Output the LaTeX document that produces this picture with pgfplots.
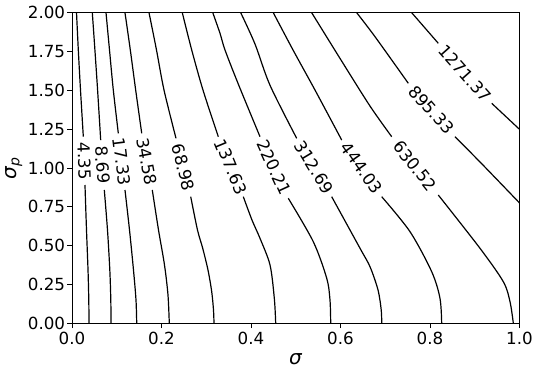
\documentclass[border=0pt]{standalone}
\usepackage{pgfplots}
\pgfplotsset{compat=1.18}
\usepackage{fontspec}
\setmainfont{DejaVu Sans}
\newcommand\lbl{\fontsize{16.7}{20}\selectfont}
\newcommand\axl{\fontsize{20}{24}\selectfont}
\tikzset{
  cl/.style={black, line width=1.2pt, smooth},
  lb/.style={font=\lbl, inner sep=0pt},
}

\begin{document}
\begin{tikzpicture}
\useasboundingbox (-72pt,-50.7pt) rectangle (468pt,323.3pt);
\begin{axis}[
  scale only axis, width=447.5pt, height=310.6pt,
  xmin=0, xmax=1, ymin=0, ymax=2,
  xtick={0,0.2,0.4,0.6,0.8,1},
  ytick={0,0.25,0.5,0.75,1,1.25,1.5,1.75,2},
  tick align=outside, tick pos=left,
  major tick length=4.9pt,
  every tick/.style={black, line width=0.9pt},
  axis line style={line width=0.9pt},
  tick label style={font=\lbl},
  /pgf/number format/assume math mode=true,
  x tick label style={inner sep=3.3pt, /pgf/number format/.cd, fixed, fixed zerofill, precision=1},
  y tick label style={inner sep=1.8pt, /pgf/number format/.cd, fixed, fixed zerofill, precision=2},
  xlabel={\textit{σ}},
  ylabel={\textit{σ}\textsubscript{\textit{p}}},
  label style={font=\axl, inner sep=0pt},
  x label style={at={(axis description cs:0.5,-0.1143)}, anchor=center},
  y label style={at={(axis description cs:-0.1301,0.5)}, anchor=center},
]
% 4.35
\addplot[cl] coordinates {(0.0101,2.0) (0.0141,1.760) (0.019,1.502) (0.0253,1.2016)};
\addplot[cl] coordinates {(0.029,0.8905) (0.0324,0.601) (0.0358,0.343) (0.0375,0.150) (0.038,0)};
% 8.69
\addplot[cl] coordinates {(0.0454,2.0) (0.0512,1.760) (0.0572,1.502) (0.0641,1.180)};
\addplot[cl] coordinates {(0.0722,0.8584) (0.0793,0.601) (0.0845,0.343) (0.0867,0.150) (0.0872,0)};
% 17.33
\addplot[cl] coordinates {(0.076,2) (0.0838,1.760) (0.0923,1.502) (0.1035,1.2234)};
\addplot[cl] coordinates {(0.1184,0.8584) (0.1285,0.601) (0.1374,0.343) (0.143,0.150) (0.1446,0)};
% 34.58
\addplot[cl] coordinates {(0.1184,2) (0.1303,1.760) (0.1423,1.502) (0.1558,1.2234)};
\addplot[cl] coordinates {(0.1794,0.8584) (0.1933,0.601) (0.2067,0.3754) (0.2145,0.182) (0.2174,0)};
% 68.98
\addplot[cl] coordinates {(0.1721,2) (0.1888,1.760) (0.2056,1.502) (0.2324,1.191)};
\addplot[cl] coordinates {(0.2653,0.8152) (0.2804,0.601) (0.2921,0.483) (0.3039,0.343) (0.3122,0.2035) (0.3162,0.0856) (0.3173,0)};
% 137.63
\addplot[cl] coordinates {(0.2465,2) (0.2675,1.760) (0.2927,1.502) (0.3269,1.2016)};
\addplot[cl] coordinates {(0.3828,0.8152) (0.4022,0.665) (0.4201,0.5473) (0.4425,0.3754) (0.4521,0.161) (0.4552,0)};
% 220.21
\addplot[cl] coordinates {(0.3146,2) (0.3307,1.8674) (0.3419,1.760) (0.3709,1.5454) (0.4201,1.2016)};
\addplot[cl] coordinates {(0.4833,0.805) (0.5392,0.5254) (0.5692,0.2898) (0.5765,0.150) (0.5781,0)};
% 312.69
\addplot[cl] coordinates {(0.377,2) (0.4089,1.7985) (0.4425,1.5325) (0.5021,1.191)};
\addplot[cl] coordinates {(0.5803,0.8152) (0.6436,0.483) (0.6659,0.3645) (0.6838,0.2151) (0.691,0.0856) (0.6921,0)};
% 444.03
\addplot[cl] coordinates {(0.4498,2) (0.4939,1.760) (0.5430,1.502) (0.6027,1.180)};
\addplot[cl] coordinates {(0.6921,0.8152) (0.7553,0.590) (0.8038,0.3323) (0.8223,0.161) (0.8261,0)};
% 630.52
\addplot[cl] coordinates {(0.5356,2) (0.6011,1.6954) (0.6659,1.3989) (0.7144,1.2016)};
\addplot[cl] coordinates {(0.8185,0.826) (0.9117,0.483) (0.9638,0.2679) (0.9788,0.139) (0.9862,0)};
% 895.33
\addplot[cl] coordinates {(0.6362,2) (0.6771,1.8455) (0.7515,1.5454)};
\addplot[cl] coordinates {(0.8559,1.2016) (0.9184,1.019) (1.0,0.775)};
% 1271.37
\addplot[cl] coordinates {(0.7591,2) (0.8185,1.803)};
\addplot[cl] coordinates {(0.9379,1.4166) (1.0,1.249)};

\node[lb, rotate=-88]   at (axis cs:0.0273,1.045)  {4.35};
\node[lb, rotate=-86]   at (axis cs:0.0682,1.019)  {8.69};
\node[lb, rotate=-83]   at (axis cs:0.1111,1.0406) {17.33};
\node[lb, rotate=-79.4] at (axis cs:0.1676,1.0406) {34.58};
\node[lb, rotate=-76]   at (axis cs:0.2487,1.0032) {68.98};
\node[lb, rotate=-67.4] at (axis cs:0.3549,1.0084) {137.63};
\node[lb, rotate=-65.3] at (axis cs:0.4518,1.0032) {220.21};
\node[lb, rotate=-59]   at (axis cs:0.5412,1.0032) {312.69};
\node[lb, rotate=-54.8] at (axis cs:0.6474,0.998)  {444.03};
\node[lb, rotate=-51.4] at (axis cs:0.7665,1.0142) {630.52};
\node[lb, rotate=-48.8] at (axis cs:0.8038,1.3735) {895.33};
\node[lb, rotate=-48.3] at (axis cs:0.8782,1.6098) {1271.37};
\end{axis}
\end{tikzpicture}
\end{document}
